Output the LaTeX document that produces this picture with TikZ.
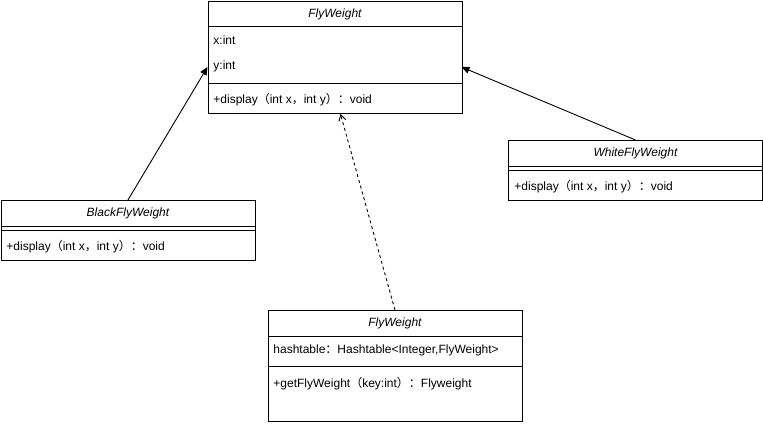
\documentclass[tikz,border=0pt]{standalone}
\usepackage{fontspec}
\setmainfont{Liberation Sans}
\newfontfamily\cjk{Noto Sans CJK SC}
\usepackage{tikz}
\usetikzlibrary{arrows.meta,positioning}
\newcommand{\flp}{{\cjk （}}
\newcommand{\frp}{{\cjk ）}}
\newcommand{\fcol}{{\cjk ：}}
\newcommand{\fcom}{{\cjk ，}}
\begin{document}
\begin{tikzpicture}[x=1pt, y=-1pt, font=\fontsize{12}{14}\selectfont, line width=0.9pt,
  cls/.style={draw, anchor=north west, minimum width=254pt, inner sep=0pt},
  cname/.style={font=\fontsize{12}{14}\selectfont\itshape, inner sep=0pt},
  member/.style={anchor=west, inner sep=0pt},
  inherit/.style={-{Triangle[length=8pt,width=7pt]}},
  uses/.style={dash pattern=on 3pt off 3pt, -{Straight Barb[length=6pt,width=7pt]}}]
\useasboundingbox[fill=white] (0,0) rectangle (763,423);
% abstract flyweight
\node[cls, minimum height=112pt] (fw) at (207.5,1) {};
\node[cname] (fwname) at (fw.north |- 0,14) {FlyWeight};
\draw (fw.west |- 0,26) -- (fw.east |- 0,26);
\node[member] (fwx) at (213,40) {x:int};
\node[member] (fwy) at (213,66) {y:int};
\draw (fw.west |- 0,83) -- (fw.east |- 0,83);
\node[member] (fwop) at (213,100) {+display\flp int x\fcom int y\frp\fcol void};
% concrete flyweights
\node[cls, minimum height=60pt] (blk) at (0.5,200) {};
\node[cname] (blkname) at (blk.north |- 0,213) {BlackFlyWeight};
\draw (blk.west |- 0,226) -- (blk.east |- 0,226);
\draw (blk.west |- 0,230) -- (blk.east |- 0,230);
\node[member] (blkop) at (6,247) {+display\flp int x\fcom int y\frp\fcol void};
\node[cls, minimum height=60pt] (wht) at (508,140) {};
\node[cname] (whtname) at (wht.north |- 0,153) {WhiteFlyWeight};
\draw (wht.west |- 0,166) -- (wht.east |- 0,166);
\draw (wht.west |- 0,170) -- (wht.east |- 0,170);
\node[member] (whtop) at (514,187) {+display\flp int x\fcom int y\frp\fcol void};
% factory
\node[cls, minimum height=111pt] (fac) at (267.5,310) {};
\node[cname] (facname) at (fac.north |- 0,323) {FlyWeight};
\draw (fac.west |- 0,336) -- (fac.east |- 0,336);
\node[member] (facattr) at (273,350) {hashtable\fcol Hashtable<Integer,FlyWeight>};
\draw (fac.west |- 0,366) -- (fac.east |- 0,366);
\node[member] (facop) at (273,384) {+getFlyWeight\flp key:int\frp\fcol Flyweight};
% relations
\coordinate (fwL) at (207.5,67);
\coordinate (fwR) at (461.5,67);
\draw[inherit] (blk.north) -- (fwL);
\draw[inherit] (wht.north) -- (fwR);
\draw[uses] (fac.north) -- ([xshift=5.5pt]fw.south);
\end{tikzpicture}
\end{document}
